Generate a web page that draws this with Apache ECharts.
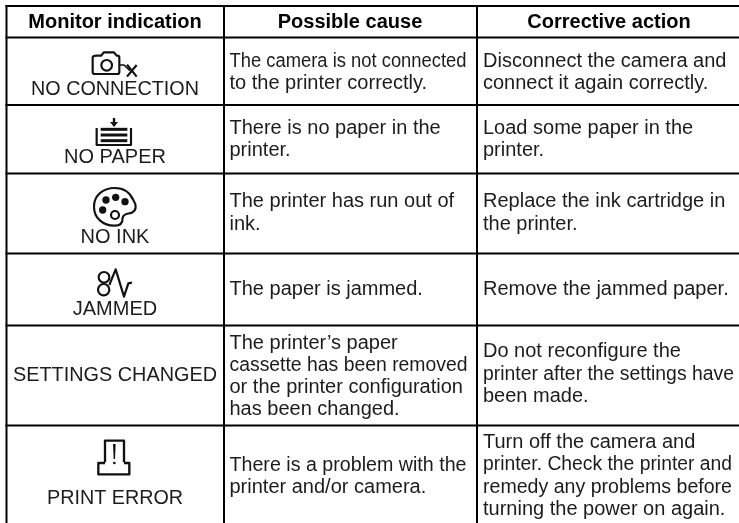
<!DOCTYPE html>
<html>
<head>
<meta charset="utf-8">
<style>html,body{margin:0;padding:0;background:#fff}#c{width:739px;height:523px}</style>
<script src="https://cdn.jsdelivr.net/npm/echarts@6/dist/echarts.min.js"></script>
</head>
<body>
<div id="c"></div>
<script>
const headers = ["Monitor indication", "Possible cause", "Corrective action"];
const indications = ["NO CONNECTION", "NO PAPER", "NO INK", "JAMMED", "SETTINGS CHANGED", "PRINT ERROR"];
const causes = [
  ["The camera is not connected", "to the printer correctly."],
  ["There is no paper in the", "printer."],
  ["The printer has run out of", "ink."],
  ["The paper is jammed."],
  ["The printer\u2019s paper", "cassette has been removed", "or the printer configuration", "has been changed."],
  ["There is a problem with the", "printer and/or camera."]
];
const actions = [
  ["Disconnect the camera and", "connect it again correctly."],
  ["Load some paper in the", "printer."],
  ["Replace the ink cartridge in", "the printer."],
  ["Remove the jammed paper."],
  ["Do not reconfigure the", "printer after the settings have", "been made."],
  ["Turn off the camera and", "printer. Check the printer and", "remedy any problems before", "turning the power on again."]
];

// layout
const FONT = '"Liberation Sans", Arial, sans-serif';
const SIZE = 20, MID = 6.9, INK = '#1c1c1c';
const colX = [6.5, 224, 477];
const rowY = [6, 37.5, 105, 173.5, 253.5, 325.5, 425.5];
const headCenter = [115, 350, 609];
const headBase = 29;
const labelCenter = 115;
const labelBase = [96, 164, 244, 316.5, 382.5, 505.5];
const causeBase = [[68, 90], [135, 157], [208, 231], [296.5], [350, 372, 394.5, 416.5], [472, 494]];
const actionBase = [[68, 90], [135, 157], [208, 231], [296.5], [358, 381, 403], [449, 471.5, 494, 516.5]];
const textX = [229.5, 483];
// measured widths of the lines that the reference sets tighter than the font's natural width
const fitWidth = {
  "The camera is not connected": 237,
  "cassette has been removed": 238,
  "There is a problem with the": 237,
  "printer. Check the printer and": 249,
  "remedy any problems before": 249,
  "printer after the settings have": 251,
  "NO CONNECTION": 168,
  "SETTINGS CHANGED": 204,
  "PRINT ERROR": 136
};

const ctx = document.createElement('canvas').getContext('2d');
function fitScale(str, font) {
  if (!(str in fitWidth)) return 1;
  ctx.font = font;
  return fitWidth[str] / ctx.measureText(str).width;
}

const els = [];
function line(x1, y1, x2, y2) {
  els.push({type: 'line', silent: true, shape: {x1, y1, x2, y2}, style: {stroke: '#000', lineWidth: 2}});
}
function text(str, x, base, align, bold) {
  const font = (bold ? 'bold ' : '') + SIZE + 'px ' + FONT;
  els.push({type: 'text', silent: true, x: x, y: base - MID, scaleX: fitScale(str, font), style: {
    text: str, fill: bold ? '#000' : INK, align: align, verticalAlign: 'middle', font: font
  }});
}
rowY.forEach(y => line(5.5, y, 739, y));
colX.forEach(x => line(x, 5, x, 523));
headers.forEach((h, i) => text(h, headCenter[i], headBase, 'center', true));
indications.forEach((s, i) => text(s, labelCenter, labelBase[i], 'center', false));
causes.forEach((r, i) => r.forEach((s, j) => text(s, textX[0], causeBase[i][j], 'left', false)));
actions.forEach((r, i) => r.forEach((s, j) => text(s, textX[1], actionBase[i][j], 'left', false)));

// icons, drawn in 3x units and scaled down
const st = (w) => ({stroke: '#111', lineWidth: w, fill: 'none', lineJoin: 'round'});
const path = (d, w) => ({type: 'path', shape: {pathData: d}, style: st(w)});
const solid = (d) => ({type: 'path', shape: {pathData: d}, style: {fill: '#111'}});
const ring = (cx, cy, r, w) => ({type: 'circle', shape: {cx, cy, r}, style: st(w)});
const dot = (cx, cy, r) => ({type: 'circle', shape: {cx, cy, r}, style: {fill: '#111'}});
const icon = (oy, children) => ({type: 'group', x: 0, y: oy, scaleX: 1 / 3, scaleY: 1 / 3, children: children});

const icons = [
  icon(0, [
    path('M290 167H303L312 157H342L350 167H352Q358 167 358 173V216Q358 222 352 222H284Q278 222 278 216V173Q278 167 290 167Z', 6.5),
    ring(320, 196, 16, 6.5),
    path('M358 195H372L390 212', 5),
    path('M381 194L410 230M410 195L381 230', 6.5)
  ]),
  icon(0, [
    path('M290 384V435H393V384', 6.5),
    path('M302 388H382', 9), path('M302 405H382', 9), path('M302 422H382', 9),
    path('M342 354V368', 7), solid('M330 366H354L342 381Z')
  ]),
  icon(170, [
    path('M345 54C305 54 282 80 282 110C282 145 310 168 345 167C365 167 368 155 368 143C370 130 385 132 395 128C410 122 410 105 400 90C390 68 370 54 345 54Z', 6.5),
    dot(318, 90, 11), dot(347, 82, 11), dot(375, 95, 11), dot(308, 120, 11), ring(345, 135, 12, 6.5)
  ]),
  icon(170, [
    ring(312, 322, 16, 6.5), ring(311, 359, 17, 6.5),
    path('M328 345L347 298L372 380L385 340L396 338', 6.5)
  ]),
  icon(345, [
    path('M315 352V287H372V352', 7),
    path('M315 354H295V388H388V354H372', 7),
    solid('M339 297H347L345 342H341Z'), dot(343, 354, 4)
  ])
];

const chart = echarts.init(document.getElementById('c'), null, {renderer: 'canvas', width: 739, height: 523});
chart.setOption({
  animation: false,
  backgroundColor: '#fff',
  graphic: {elements: els},
  series: [{
    type: 'custom',
    coordinateSystem: 'none',
    silent: true,
    data: [[0]],
    renderItem: () => ({type: 'group', children: icons})
  }]
});
</script>
</body>
</html>
